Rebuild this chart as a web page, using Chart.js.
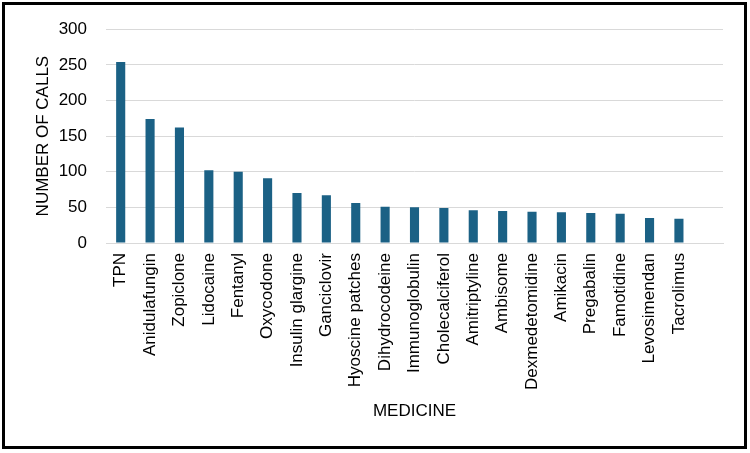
<!DOCTYPE html>
<html>
<head>
<meta charset="utf-8">
<script src="https://cdn.jsdelivr.net/npm/chart.js@4.4.1/dist/chart.umd.min.js"></script>
<style>
  html, body { margin: 0; padding: 0; background: #ffffff; }
  #wrap { width: 750px; height: 453px; position: relative; }
</style>
</head>
<body>
<div id="wrap"><canvas id="c" width="750" height="453"></canvas></div>
<script>
const categories = ["TPN", "Anidulafungin", "Zopiclone", "Lidocaine", "Fentanyl", "Oxycodone",
  "Insulin glargine", "Ganciclovir", "Hyoscine patches", "Dihydrocodeine", "Immunoglobulin",
  "Cholecalciferol", "Amitriptyline", "Ambisome", "Dexmedetomidine", "Amikacin", "Pregabalin",
  "Famotidine", "Levosimendan", "Tacrolimus", ""];
const calls = [254, 174, 162, 102, 100, 91, 70, 67, 56, 51, 50, 49, 46, 45, 44, 43, 42, 41, 35, 34, null];
const yTicks = [0, 50, 100, 150, 200, 250, 300];

const frame = {
  id: 'frame',
  afterDraw(chart) {
    const ctx = chart.ctx;
    ctx.save();
    ctx.strokeStyle = '#000000';
    ctx.lineWidth = 3;
    ctx.strokeRect(3.5, 3.5, 742, 444);
    ctx.restore();
  }
};

const FONT = "'Liberation Sans', Arial, sans-serif";

new Chart(document.getElementById('c'), {
  type: 'bar',
  data: {
    labels: categories,
    datasets: [{
      data: calls,
      backgroundColor: '#1B6185',
      borderWidth: 0,
      barPercentage: 0.31,
      categoryPercentage: 1.0
    }]
  },
  options: {
    responsive: false,
    animation: false,
    layout: { padding: { left: 0, right: 27, top: 25, bottom: 0 } },
    plugins: { legend: { display: false }, tooltip: { enabled: false } },
    scales: {
      x: {
        grid: { display: false, drawTicks: false },
        border: { display: true, color: '#d9d9d9', width: 1 },
        ticks: {
          color: '#000000',
          font: { family: FONT, size: 17 },
          minRotation: 90, maxRotation: 90,
          padding: 10,
          autoSkip: false
        },
        title: {
          display: true,
          text: 'MEDICINE',
          color: '#000000',
          font: { family: FONT, size: 17 },
          padding: { top: 0, bottom: 31 }
        },
        afterFit(scale) { scale.height = 453 - 243; }
      },
      y: {
        min: 0, max: 300,
        afterBuildTicks(scale) { scale.ticks = yTicks.map(v => ({ value: v })); },
        grid: { color: '#d9d9d9', lineWidth: 1, drawTicks: false },
        border: { display: false },
        ticks: {
          color: '#000000',
          font: { family: FONT, size: 17 },
          padding: 19
        },
        title: {
          display: true,
          text: 'NUMBER OF CALLS',
          color: '#000000',
          font: { family: FONT, size: 17 },
          padding: { top: 33, bottom: 0 }
        },
        afterFit(scale) { scale.width = 106; }
      }
    }
  },
  plugins: [frame]
});
</script>
</body>
</html>
